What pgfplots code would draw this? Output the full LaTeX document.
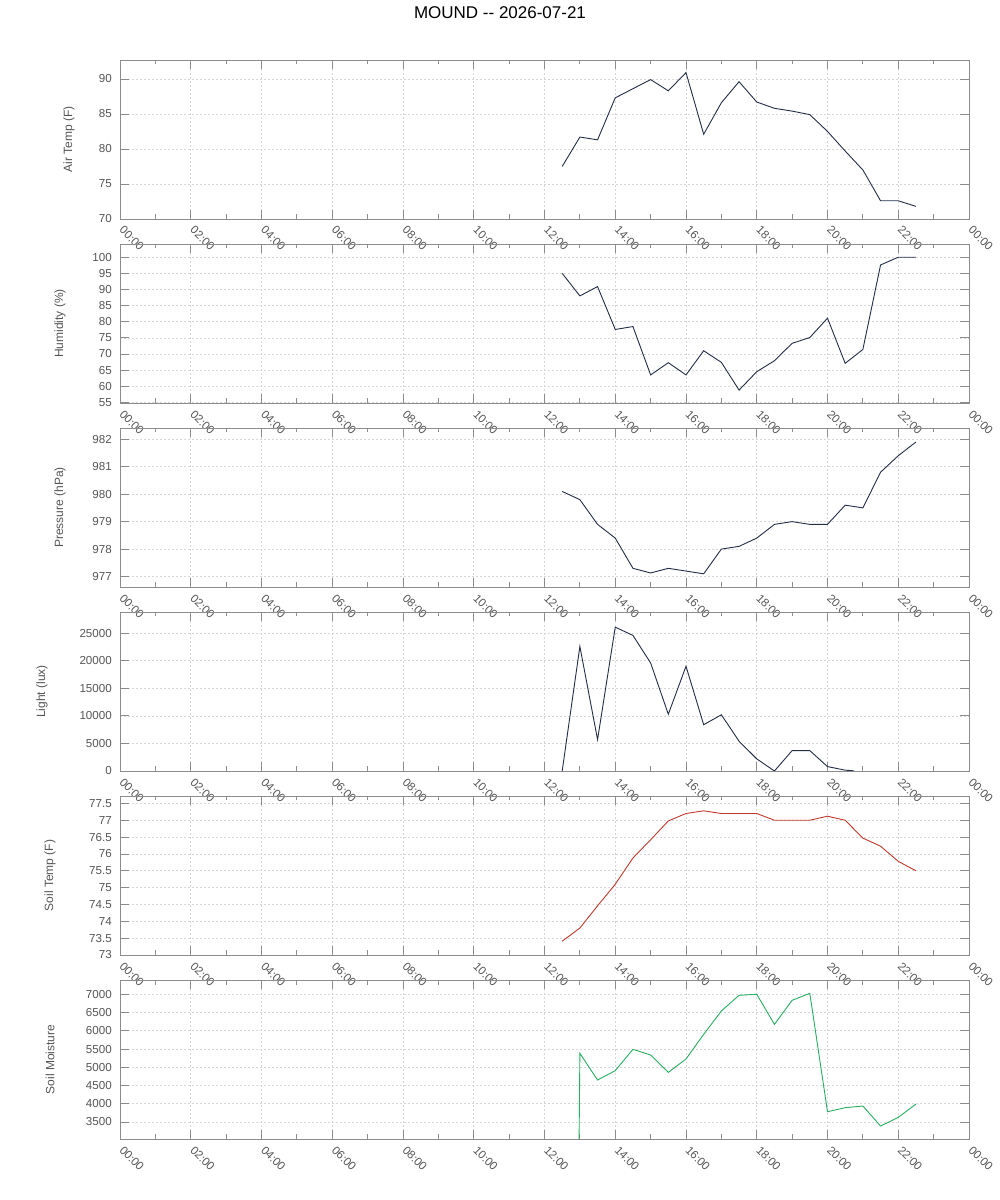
\documentclass[border=0pt]{standalone}
\usepackage{fontspec}
\setmainfont{Liberation Sans}
\usepackage{pgfplots}
\pgfplotsset{compat=1.18}
\definecolor{framec}{RGB}{140,140,140}
\definecolor{txt}{RGB}{85,85,85}
\definecolor{gridc}{RGB}{215,215,215}
\definecolor{navy}{RGB}{35,45,70}
\definecolor{soilred}{RGB}{192,57,43}
\definecolor{soilgreen}{RGB}{39,174,96}
\pgfplotsset{
 panel/.style={
  scale only axis, width=849pt, height=159pt, anchor=south west,
  xmin=0, xmax=24,
  xtick={0,2,...,24},
  xticklabels={00:00,02:00,04:00,06:00,08:00,10:00,12:00,14:00,16:00,18:00,20:00,22:00,00:00},
  minor xtick={1,3,...,23},
  major tick length=9pt, minor tick length=4.5pt,
  tick align=inside, tick pos=both,
  axis line style={framec, line width=0.8pt},
  every tick/.style={framec, line width=0.8pt},
  grid=major,
  major grid style={gridc, dash pattern=on 2pt off 2pt, line width=0.6pt},
  xticklabel style={font=\fontsize{11.6}{13}\selectfont, text=txt, inner sep=0pt, xshift=4.5pt, yshift=-6pt, rotate=-45, anchor=north west},
  yticklabel style={font=\fontsize{11.6}{13}\selectfont, text=txt, inner sep=0pt, xshift=-8pt},
  ylabel style={font=\fontsize{12}{14}\selectfont, text=txt, anchor=center},
  scaled y ticks=false,
  /pgf/number format/assume math mode=true,
  /pgf/number format/1000 sep={},
  every axis plot/.append style={line width=0.9pt},
 }
}
\begin{document}
\begin{tikzpicture}
\path[use as bounding box] (0pt,0pt) rectangle (1000pt,1200pt);

% Panel 1: Air Temp
\begin{axis}[panel, at={(120pt,981pt)},
  ymin=70, ymax=92.7, ytick={70,75,...,90},
  ylabel={Air Temp (F)}, ylabel style={at={(axis description cs:-0.0601,0.5)}},
  title={MOUND -{}- 2026-07-21},
  title style={at={(axis description cs:0.4476,1.226)}, anchor=base, font=\fontsize{17}{20}\selectfont, text=black}]
\addplot[navy] coordinates {
(12.5,77.5)(13,81.7)(13.5,81.3)(14,87.3)(14.5,88.6)(15,89.9)(15.5,88.3)(16,90.9)
(16.5,82.1)(17,86.6)(17.5,89.6)(18,86.7)(18.5,85.8)(19,85.4)(19.5,84.9)(20,82.5)
(20.5,79.7)(21,77.0)(21.5,72.6)(22,72.6)(22.5,71.8)};
\end{axis}

% Panel 2: Humidity
\begin{axis}[panel, at={(120pt,797pt)},
  ymin=54.8, ymax=104.1, ytick={55,60,...,100},
  ylabel={Humidity (\%)}, ylabel style={at={(axis description cs:-0.0707,0.5)}}]
\addplot[navy] coordinates {
(12.5,95.0)(13,88.0)(13.5,90.9)(14,77.6)(14.5,78.5)(15,63.5)(15.5,67.3)(16,63.5)
(16.5,71.0)(17,67.4)(17.5,58.8)(18,64.5)(18.5,67.9)(19,73.3)(19.5,75.1)(20,81.1)
(20.5,67.1)(21,71.4)(21.5,97.6)(22,100)(22.5,100)};
\end{axis}

% Panel 3: Pressure
\begin{axis}[panel, at={(120pt,613pt)},
  ymin=976.62, ymax=982.41, ytick={977,978,...,982},
  ylabel={Pressure (hPa)}, ylabel style={at={(axis description cs:-0.0707,0.5)}}]
\addplot[navy] coordinates {
(12.5,980.1)(13,979.8)(13.5,978.9)(14,978.4)(14.5,977.3)(15,977.13)(15.5,977.3)(16,977.2)
(16.5,977.1)(17,978.0)(17.5,978.1)(18,978.4)(18.5,978.9)(19,979.0)(19.5,978.9)(20,978.9)
(20.5,979.6)(21,979.5)(21.5,980.8)(22,981.4)(22.5,981.9)};
\end{axis}

% Panel 4: Light
\begin{axis}[panel, at={(120pt,429pt)},
  ymin=0, ymax=28850, ytick={0,5000,...,25000},
  ylabel={Light (lux)}, ylabel style={at={(axis description cs:-0.0919,0.5)}}]
\addplot[navy] coordinates {
(12.5,0)(13,22600)(13.5,5700)(14,26100)(14.5,24600)(15,19600)(15.5,10300)(16,19000)
(16.5,8400)(17,10200)(17.5,5400)(18,2200)(18.5,0)(19,3700)(19.5,3700)(20,800)
(20.5,150)(20.75,30)};
\end{axis}

% Panel 5: Soil Temp
\begin{axis}[panel, at={(120pt,245pt)},
  ymin=73, ymax=77.72, ytick={73,73.5,...,77.5},
  ylabel={Soil Temp (F)}, ylabel style={at={(axis description cs:-0.0824,0.5)}}]
\addplot[soilred] coordinates {
(12.5,73.41)(13,73.8)(13.5,74.46)(14,75.1)(14.5,75.88)(15,76.42)(15.5,76.98)(16,77.2)
(16.5,77.28)(17,77.2)(17.5,77.2)(18,77.2)(18.5,77.0)(19,77.0)(19.5,77.0)(20,77.12)
(20.5,77.0)(21,76.47)(21.5,76.23)(22,75.78)(22.5,75.5)};
\end{axis}

% Panel 6: Soil Moisture
\begin{axis}[panel, at={(120pt,61pt)},
  ymin=3034, ymax=7392, ytick={3500,4000,...,7000},
  ylabel={Soil Moisture}, ylabel style={at={(axis description cs:-0.0824,0.5)}}]
\addplot[soilgreen] coordinates {
(12.95,0)(13,5382)(13.5,4651)(14,4907)(14.5,5492)(15,5336)(15.5,4861)(16,5227)
(16.5,5903)(17,6543)(17.5,6973)(18,7000)(18.5,6177)(19,6835)(19.5,7027)(20,3782)
(20.5,3892)(21,3938)(21.5,3389)(22,3627)(22.5,3992)};
\end{axis}
\end{tikzpicture}
\end{document}
